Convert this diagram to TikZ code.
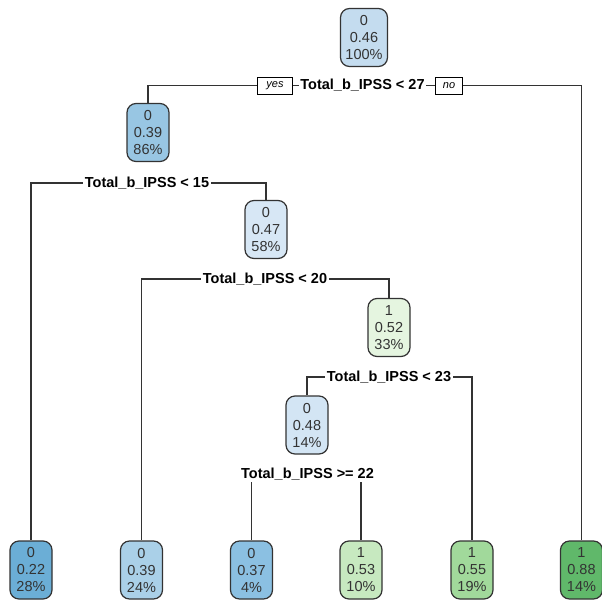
\documentclass[tikz,border=0pt]{standalone}
\usepackage{fontspec}
\setmainfont{Liberation Sans}
\usetikzlibrary{backgrounds}
\definecolor{cRoot}{HTML}{C4DCEF}
\definecolor{cNa}{HTML}{98C6E3}
\definecolor{cNb}{HTML}{D7E7F5}
\definecolor{cNc}{HTML}{E5F5E0}
\definecolor{cNd}{HTML}{D3E5F4}
\definecolor{cLa}{HTML}{6BAED6}
\definecolor{cLb}{HTML}{AAD0E8}
\definecolor{cLc}{HTML}{8BC0E2}
\definecolor{cLd}{HTML}{C7E9C0}
\definecolor{cLe}{HTML}{A1D99B}
\definecolor{cLf}{HTML}{60B86A}
\definecolor{edgegray}{HTML}{333333}
\tikzset{
  treenode/.style={draw=edgegray, line width=1.2pt, rounded corners=9pt,
    minimum width=42pt, minimum height=58pt, inner sep=0pt, align=center,
    text=edgegray, font=\fontsize{14.5}{17}\selectfont},
  splitlabel/.style={fill=white, inner sep=1.5pt, font=\fontsize{14.5}{16}\selectfont\bfseries},
  yesno/.style={draw=black, line width=0.8pt, fill=white, inner sep=1pt,
    minimum height=17pt, font=\fontsize{11}{12}\selectfont\itshape},
  conn/.style={draw=edgegray, line width=1.3pt}
}
\begin{document}
\begin{tikzpicture}[x=1pt, y=-1pt]
\useasboundingbox (0,0) rectangle (602,606);
% inner nodes
\node[treenode, fill=cRoot, minimum width=47pt] (root) at (364,37.5) {0\\0.46\\100\%};
\node[treenode, fill=cNa] (n2) at (148,132.5) {0\\0.39\\86\%};
\node[treenode, fill=cNb] (n3) at (266,229.5) {0\\0.47\\58\%};
\node[treenode, fill=cNc] (n4) at (389,327.5) {1\\0.52\\33\%};
\node[treenode, fill=cNd] (n5) at (307,425) {0\\0.48\\14\%};
% leaves
\node[treenode, fill=cLa] (l1) at (31,570) {0\\0.22\\28\%};
\node[treenode, fill=cLb] (l2) at (141.5,570) {0\\0.39\\24\%};
\node[treenode, fill=cLc] (l3) at (251.5,570) {0\\0.37\\4\%};
\node[treenode, fill=cLd] (l4) at (361,570) {1\\0.53\\10\%};
\node[treenode, fill=cLe] (l5) at (472,570) {1\\0.55\\19\%};
\node[treenode, fill=cLf] (l6) at (581.5,570) {1\\0.88\\14\%};
% split labels
\node[splitlabel] (s1) at (362.5,85.5) {Total\_b\_IPSS < 27};
\node[splitlabel] (s2) at (147,183) {Total\_b\_IPSS < 15};
\node[splitlabel] (s3) at (265,279) {Total\_b\_IPSS < 20};
\node[splitlabel] (s4) at (389,377) {Total\_b\_IPSS < 23};
\node[splitlabel] (s5) at (307.5,474) {Total\_b\_IPSS >= 22};
\node[yesno, minimum width=35pt] (yes) at (275,85.5) {yes};
\node[yesno, minimum width=27pt] (no) at (449,85.5) {no};
% connectors
\begin{scope}[on background layer]
\draw[conn] (s1.center) -| (n2.north);
\draw[conn] (s1.center) -| (l6.north);
\draw[conn] (s2.center) -| (l1.north);
\draw[conn] (s2.center) -| (n3.north);
\draw[conn] (s3.center) -| (l2.north);
\draw[conn] (s3.center) -| (n4.north);
\draw[conn] (s4.center) -| (n5.north);
\draw[conn] (s4.center) -| (l5.north);
\draw[conn] (s5.center) -| (l3.north);
\draw[conn] (s5.center) -| (l4.north);
\end{scope}
\end{tikzpicture}
\end{document}
